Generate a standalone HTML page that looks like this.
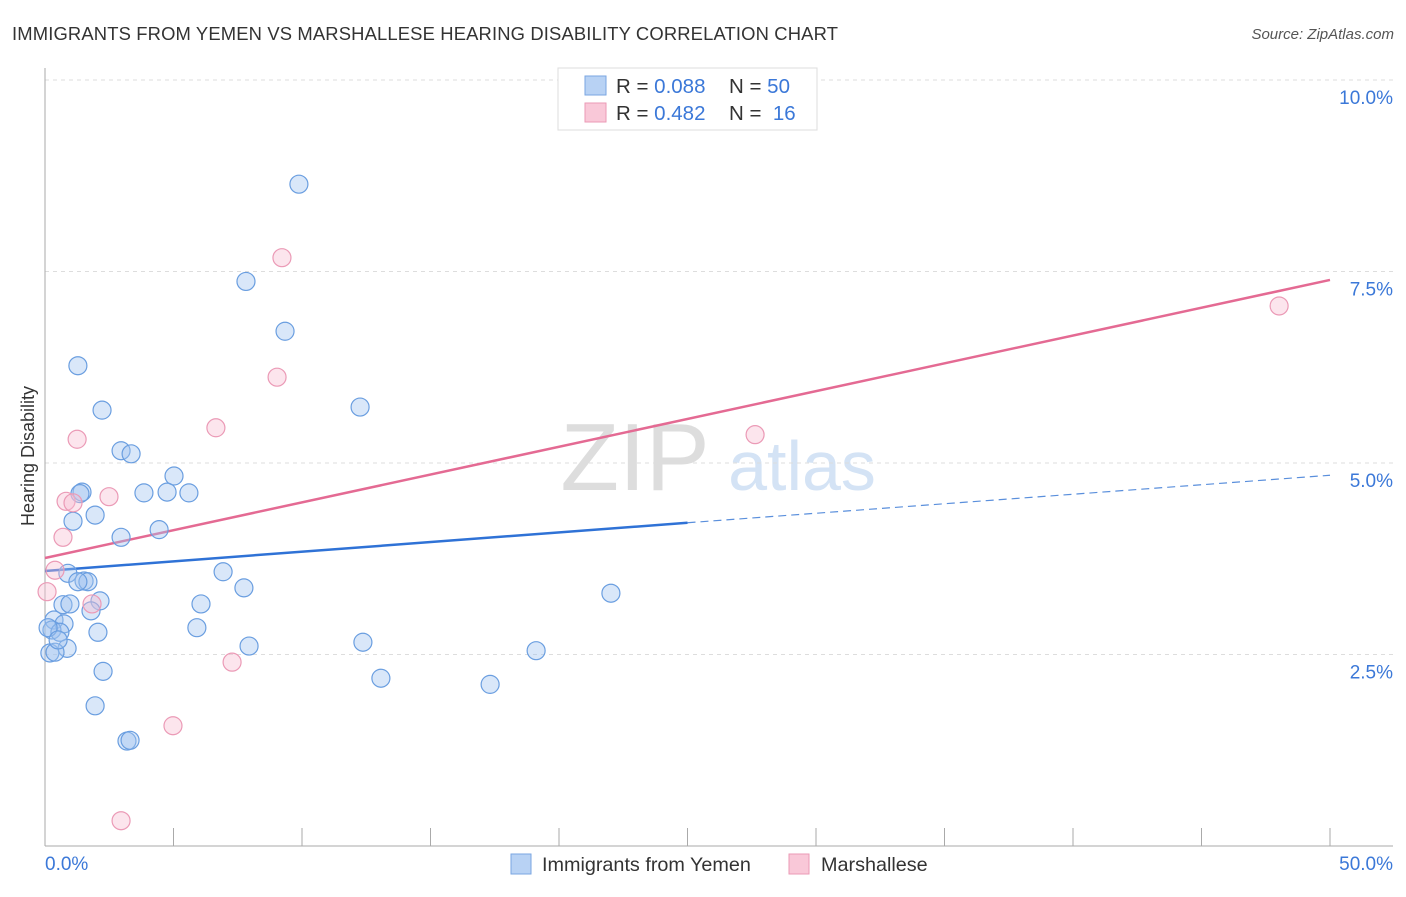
<!DOCTYPE html>
<html><head><meta charset="utf-8"><style>
body{margin:0;background:#fff;font-family:"Liberation Sans",sans-serif}
svg text{font-family:"Liberation Sans",sans-serif}
</style></head><body>
<svg id="chart" width="1406" height="892" xmlns="http://www.w3.org/2000/svg">
<text x="12" y="40" font-size="18.4" fill="#333" letter-spacing="0.15">IMMIGRANTS FROM YEMEN VS MARSHALLESE HEARING DISABILITY CORRELATION CHART</text>
<text x="1394" y="39" font-size="15" fill="#555" text-anchor="end" font-style="italic">Source: ZipAtlas.com</text>
<g>
<text x="635" y="490" font-size="96" fill="#ddd" font-family="Liberation Serif" text-anchor="middle">ZIP</text>
<text x="802" y="490" font-size="70" fill="#d4e3f5" text-anchor="middle">atlas</text>
</g>
<g id="grid"></g>
<g id="axes"></g>
<g id="lines"></g>
<g id="points"></g>
<text transform="translate(34,456) rotate(-90)" font-size="18" fill="#333" text-anchor="middle">Hearing Disability</text>
<g>
<rect x="558" y="68" width="259" height="62" fill="#fff" stroke="#ddd"/>
<rect x="585" y="76" width="21" height="19" fill="#b8d2f4" stroke="#7aa6e2"/>
<rect x="585" y="103" width="21" height="19" fill="#f9c8d8" stroke="#eb9ab6"/>
<text x="616" y="93" font-size="20.5" fill="#333">R = <tspan fill="#3b78d8">0.088</tspan><tspan x="729">N = </tspan><tspan fill="#3b78d8">50</tspan></text>
<text x="616" y="120" font-size="20.5" fill="#333">R = <tspan fill="#3b78d8">0.482</tspan><tspan x="729">N = </tspan><tspan fill="#3b78d8">&#160;16</tspan></text>
</g>
<g>
<rect x="511" y="854" width="20" height="20" fill="#b8d2f4" stroke="#7aa6e2"/>
<text x="542" y="871" font-size="19.8" fill="#333">Immigrants from Yemen</text>
<rect x="789" y="854" width="20" height="20" fill="#f9c8d8" stroke="#eb9ab6"/>
<text x="821" y="871" font-size="19.8" fill="#333">Marshallese</text>
</g>
</svg>
<script>
const yTicks=[2.5,5.0,7.5,10.0];
const yTickLabels=["2.5%","5.0%","7.5%","10.0%"];
const xTickLabels=["0.0%","50.0%"];
const blueX=[9.88,7.82,9.34,1.28,12.26,2.22,2.96,3.35,5.02,1.44,3.85,4.75,5.60,1.36,1.95,1.09,4.44,2.96,0.89,6.93,1.52,1.67,1.28,7.74,22.02,2.14,0.70,0.97,6.07,1.79,0.35,0.74,0.27,0.58,2.06,5.91,12.37,7.94,19.11,0.86,0.19,0.39,2.26,13.07,17.32,1.95,3.19,3.31,0.12,0.51];
const blueY=[8.64,7.37,6.72,6.27,5.73,5.69,5.16,5.12,4.83,4.62,4.61,4.62,4.61,4.60,4.32,4.24,4.13,4.03,3.56,3.58,3.46,3.45,3.45,3.37,3.30,3.20,3.15,3.16,3.16,3.07,2.95,2.90,2.82,2.79,2.79,2.85,2.66,2.61,2.55,2.58,2.52,2.53,2.28,2.19,2.11,1.83,1.37,1.38,2.85,2.69];
const pinkX=[9.22,48.02,9.03,6.65,1.25,27.63,0.82,1.09,2.49,0.70,0.39,0.08,1.83,7.28,4.98,2.96];
const pinkY=[7.68,7.05,6.12,5.46,5.31,5.37,4.50,4.48,4.56,4.03,3.60,3.32,3.16,2.40,1.57,0.33];
const blueLine=[3.59,4.22,4.84]; // at x=0,25,50
const pinkLine=[3.76,7.39]; // at x=0,50
const NS="http://www.w3.org/2000/svg";
const sx=v=>45+v*25.7, sy=v=>846-v*76.6;
function mk(p,t,a){const e=document.createElementNS(NS,t);for(const k in a)e.setAttribute(k,a[k]);document.getElementById(p).appendChild(e);return e;}
yTicks.forEach((t,i)=>{
 const g=mk('grid','line',{x1:45,x2:1393,y1:sy(t),y2:sy(t),stroke:'#ddd','stroke-dasharray':'4,4'});
 
 
 const l=mk('grid','text',{x:1393,y:sy(t)+24,'font-size':19,fill:'#3b78d8','text-anchor':'end'});l.textContent=yTickLabels[i];
 
 
});
let ax=mk('axes','line',{x1:45,x2:45,y1:68,y2:846,stroke:'#aaa'});


ax=mk('axes','line',{x1:45,x2:1393,y1:846,y2:846,stroke:'#aaa'});


for(let i=0;i<=10;i++){const t=mk('axes','line',{x1:sx(i*5),x2:sx(i*5),y1:828,y2:846,stroke:'#aaa'});
 
 }
[[0,'start',45],[50,'end',1393]].forEach((d,i)=>{const t=mk('axes','text',{x:d[2],y:870,'font-size':19,fill:'#3b78d8','text-anchor':d[1]});t.textContent=xTickLabels[i];
 
 });
let ln=mk('lines','line',{x1:sx(0),y1:sy(pinkLine[0]),x2:sx(50),y2:sy(pinkLine[1]),stroke:'#e46a93','stroke-width':2.5});


ln=mk('lines','line',{x1:sx(0),y1:sy(blueLine[0]),x2:sx(25),y2:sy(blueLine[1]),stroke:'#2f72d6','stroke-width':2.5});


ln=mk('lines','line',{x1:sx(25),y1:sy(blueLine[1]),x2:sx(50),y2:sy(blueLine[2]),stroke:'#5a8fdc','stroke-width':1.2,'stroke-dasharray':'8,5'});


blueX.forEach((x,i)=>{const c=mk('points','circle',{cx:sx(x),cy:sy(blueY[i]),r:9,fill:'rgba(160,196,240,0.4)',stroke:'#6a9ee0','stroke-width':1.2});
 
 });
pinkX.forEach((x,i)=>{const c=mk('points','circle',{cx:sx(x),cy:sy(pinkY[i]),r:9,fill:'rgba(248,190,210,0.4)',stroke:'#eb9ab6','stroke-width':1.2});
 
 });
</script>
</body></html>
